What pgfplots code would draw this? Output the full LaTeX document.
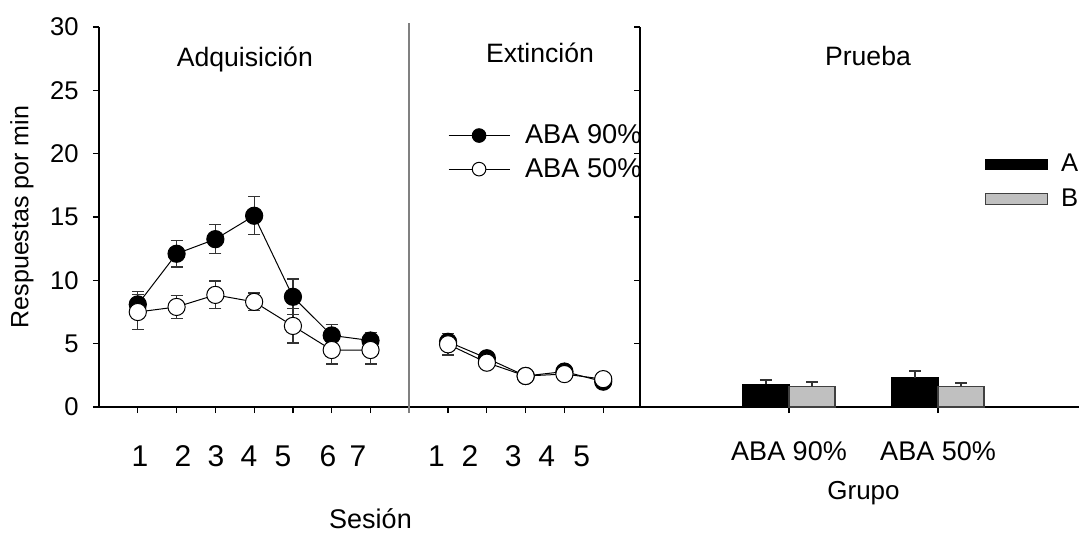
\documentclass[border=0pt]{standalone}
\usepackage{pgfplots}
\usepackage{pgfplotstable}
\pgfplotsset{compat=1.18}
\usepackage{fontspec}
\setmainfont{Liberation Sans}
\definecolor{barfill}{HTML}{C0C0C0}
\definecolor{divgray}{HTML}{808080}
\definecolor{errgray}{HTML}{333333}

% Adquisicion
\pgfplotstableread{
x y e
1 8.1 1.0
2 12.1 1.05
3 13.25 1.15
4 15.1 1.5
5 8.7 1.4
6 5.65 0.85
7 5.25 0.65
}\adqN
\pgfplotstableread{
x y e
1 7.5 1.4
2 7.9 0.9
3 8.85 1.1
4 8.3 0.7
5 6.4 1.35
6 4.5 1.1
7 4.5 1.1
}\adqC
% Extincion
\pgfplotstableread{
x y e
9 5.15 0.3
10 3.85 0.3
11 2.45 0.2
12 2.8 0.2
13 2.0 0.25
}\extN
\pgfplotstableread{
x y e
9 4.95 0.85
10 3.5 0.3
11 2.45 0.2
12 2.6 0.2
13 2.2 0.2
}\extC
% Prueba
\pgfplotstableread{
x y e
0.8455 1.8 0.33
1.8455 2.3 0.54
}\pruA
\pgfplotstableread{
x y e
1.1545 1.6 0.37
2.1545 1.65 0.25
}\pruB

\begin{document}
\begin{tikzpicture}[x=1pt,y=1pt]
\useasboundingbox (0,0) rectangle (539.5,266);
\clip (0,0) rectangle (539.5,266);
\begin{axis}[
  at={(49.5pt,62.5pt)}, anchor=south west,
  scale only axis, width=271.5pt, height=190pt,
  xmin=0, xmax=14, ymin=0, ymax=30,
  clip=false,
  /pgf/number format/assume math mode=true,
  axis lines=left, axis line style={-, line width=0.6pt},
  tick align=outside, major tick length=3pt,
  tick style={black, line width=0.6pt},
  ytick={0,5,...,30},
  yticklabel style={font=\fontsize{12.8}{14}\selectfont, anchor=east, inner sep=0pt, xshift=-7pt},
  xtick={1,2,3,4,5,6,7,9,10,11,12,13},
  xticklabels={},
  extra x ticks={1.057,2.166,3.017,3.867,4.744,5.904,6.678,8.70,9.565,10.68,11.54,12.445},
  extra x tick labels={1,2,3,4,5,6,7,1,2,3,4,5},
  extra x tick style={major tick length=0pt, xticklabel style={font=\fontsize{15}{17}\selectfont, anchor=base, inner sep=0pt, yshift=-29.8pt}},
  ylabel={Respuestas por min},
  ylabel style={font=\fontsize{12.5}{14}\selectfont, at={(axis description cs:-0.1418,0.5)}, anchor=center, inner sep=0pt},
  xlabel={Sesión},
  xlabel style={font=\fontsize{13.5}{15}\selectfont, at={(axis description cs:0.5,0)}, anchor=base, yshift=-60.5pt, inner sep=0pt},
  legend style={at={(axis cs:9.0,22.3)}, anchor=north west, draw=none, fill=none, inner sep=0pt, outer sep=0pt,
    font=\fontsize{13.6}{15}\selectfont, row sep=5.8pt,
    nodes={inner sep=0pt},
    /tikz/every odd column/.append style={column sep=7.5pt}},
  legend cell align=left,
]
\draw[divgray, line width=0.8pt] (axis cs:8,-0.45) -- (axis cs:8,30.3);

\addlegendimage{legend image code/.code={\draw[black,line width=0.5pt] (0pt,0pt) -- (30.5pt,0pt); \draw[black,line width=0.5pt,fill=black] (15.25pt,0pt) circle (3.4pt);}}
\addlegendentry{ABA 90\%}
\addlegendimage{legend image code/.code={\draw[black,line width=0.5pt] (0pt,0pt) -- (30.5pt,0pt); \draw[black,line width=0.5pt,fill=white] (15.25pt,0pt) circle (3.4pt);}}
\addlegendentry{ABA 50\%}

\pgfplotsset{
  errstyle/.style={error bars/.cd, y dir=both, y explicit,
    error bar style={line width=0.6pt, errgray},
    error mark options={rotate=90, mark size=3pt, line width=0.6pt, errgray}},
}
\addplot[forget plot, black, line width=0.5pt, mark=*, mark size=4.3pt, mark options={fill=black, line width=0.5pt}, errstyle] table[x=x,y=y,y error=e]{\adqN};
\addplot[forget plot, black, line width=0.5pt, mark=*, mark size=4.3pt, mark options={fill=white, line width=0.5pt}, errstyle] table[x=x,y=y,y error=e]{\adqC};
\addplot[forget plot, black, line width=0.5pt, mark=*, mark size=4.3pt, mark options={fill=black, line width=0.5pt}, errstyle] table[x=x,y=y,y error=e]{\extN};
\addplot[forget plot, black, line width=0.5pt, mark=*, mark size=4.3pt, mark options={fill=white, line width=0.5pt}, errstyle] table[x=x,y=y,y error=e]{\extC};

\node[font=\fontsize{13.3}{15}\selectfont, anchor=base] at (axis cs:3.76,26.9) {Adquisición};
\node[font=\fontsize{13.3}{15}\selectfont, anchor=base] at (axis cs:11.37,27.2) {Extinción};
\end{axis}

\begin{axis}[
  at={(320pt,62.5pt)}, anchor=south west,
  scale only axis, width=225pt, height=190pt,
  xmin=0, xmax=3.020, ymin=0, ymax=30,
  axis background/.style={fill=white},
  clip=false,
  axis lines=left, axis line style={-, line width=0.6pt},
  tick align=outside, major tick length=3pt,
  tick style={black, line width=0.6pt},
  ytick={0,5,...,30}, yticklabels={},
  xtick={1,2}, xticklabels={ABA 90\%, ABA 50\%},
  xticklabel style={font=\fontsize{13.5}{15}\selectfont, anchor=base, inner sep=0pt, yshift=-23.5pt},
  xlabel={Grupo},
  xlabel style={font=\fontsize{13}{15}\selectfont, at={(axis description cs:0.4967,0)}, anchor=base, yshift=-46pt, inner sep=0pt},
  legend style={at={(axis cs:2.315,19.97)}, anchor=north west, draw=none, fill=none, inner sep=0pt, outer sep=0pt,
    font=\fontsize{12.8}{14}\selectfont, row sep=7pt,
    nodes={inner sep=0pt},
    /tikz/every odd column/.append style={column sep=6.5pt}},
  legend cell align=left,
]
\addlegendimage{legend image code/.code={\draw[fill=black,draw=black,line width=0.5pt] (0pt,-2.5pt) rectangle (31pt,2.5pt);}}
\addlegendentry{A}
\addlegendimage{legend image code/.code={\draw[fill=barfill,draw=black!75,line width=0.6pt] (0pt,-2.75pt) rectangle (31pt,2.75pt);}}
\addlegendentry{B}

\addplot[forget plot, ybar, bar width=0.309, bar shift=0pt, fill=black, draw=black, line width=0.5pt,
  error bars/.cd, y dir=plus, y explicit, error bar style={line width=0.6pt, errgray},
  error mark options={rotate=90, mark size=3pt, line width=0.6pt, errgray}] table[x=x,y=y,y error=e]{\pruA};
\addplot[forget plot, ybar, bar width=0.309, bar shift=0pt, fill=barfill, draw=black!75, line width=0.6pt,
  error bars/.cd, y dir=plus, y explicit, error bar style={line width=0.6pt, errgray},
  error mark options={rotate=90, mark size=3pt, line width=0.6pt, errgray}] table[x=x,y=y,y error=e]{\pruB};

\node[font=\fontsize{13.3}{15}\selectfont, anchor=base] at (axis cs:1.53,27.0) {Prueba};
\end{axis}
\end{tikzpicture}
\end{document}
